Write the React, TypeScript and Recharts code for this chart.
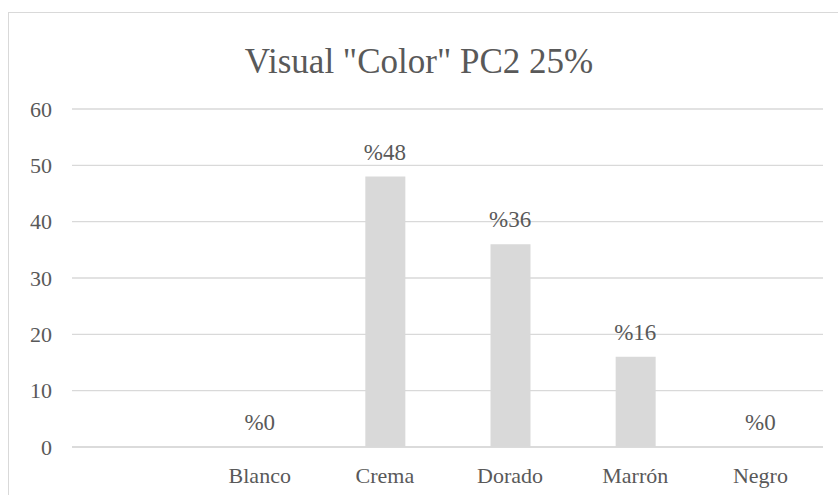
import React from 'react';
import { ComposedChart, Bar, Line, XAxis, YAxis, CartesianGrid, LabelList } from 'recharts';

const categories = ['', 'Blanco', 'Crema', 'Dorado', 'Marrón', 'Negro'];
const values: (number | null)[] = [null, 0, 48, 36, 16, 0];
const yTicks = [0, 10, 20, 30, 40, 50, 60];

const data = categories.map((name, i) => ({ name, value: values[i] }));

const FONT = "'Liberation Serif', 'DejaVu Serif', serif";
const TEXT = '#595959';

export default function App() {
  return (
    <div style={{ position: 'absolute', left: 0, top: 0, width: 838, height: 495, overflow: 'hidden', background: '#fff', fontFamily: FONT }}>
      {/* chart frame */}
      <div style={{ position: 'absolute', left: 8, top: 12, width: 900, height: 600, border: '1px solid #d9d9d9', boxSizing: 'border-box' }} />
      <div style={{ position: 'absolute', left: 0, top: 40, width: 838, textAlign: 'center', fontSize: 35, color: TEXT, lineHeight: '44px', fontFamily: FONT }}>
        Visual "Color" PC2 25%
      </div>
      <div style={{ position: 'absolute', left: 0, top: 0 }}>
        <ComposedChart width={838} height={495} data={data} margin={{ top: 109, right: 15, bottom: 18, left: 12 }} barCategoryGap={0}>
          <CartesianGrid vertical={false} stroke="#d9d9d9" strokeWidth={1.3} />
          <XAxis
            dataKey="name"
            tickLine={false}
            tickSize={0}
            tickMargin={20}
            height={30}
            axisLine={{ stroke: '#d9d9d9', strokeWidth: 1.3 }}
            tick={{ fill: TEXT, fontSize: 22, fontFamily: FONT }}
            interval={0}
          />
          <YAxis
            domain={[0, 60]}
            ticks={yTicks}
            width={60}
            tickLine={false}
            tickSize={0}
            tickMargin={20}
            axisLine={false}
            tick={{ fill: TEXT, fontSize: 22, fontFamily: FONT }}
          />
          <Bar dataKey="value" fill="#d9d9d9" barSize={40} isAnimationActive={false} />
          {/* invisible line carrying the data labels, so zero values are labelled too */}
          <Line dataKey="value" stroke="none" dot={false} activeDot={false} isAnimationActive={false} connectNulls={false}>
            <LabelList
              dataKey="value"
              position="top"
              offset={17}
              formatter={(v: any) => (v === null || v === undefined ? '' : `%${v}`)}
              style={{ fill: TEXT, fontSize: 23, fontFamily: FONT }}
            />
          </Line>
        </ComposedChart>
      </div>
    </div>
  );
}
